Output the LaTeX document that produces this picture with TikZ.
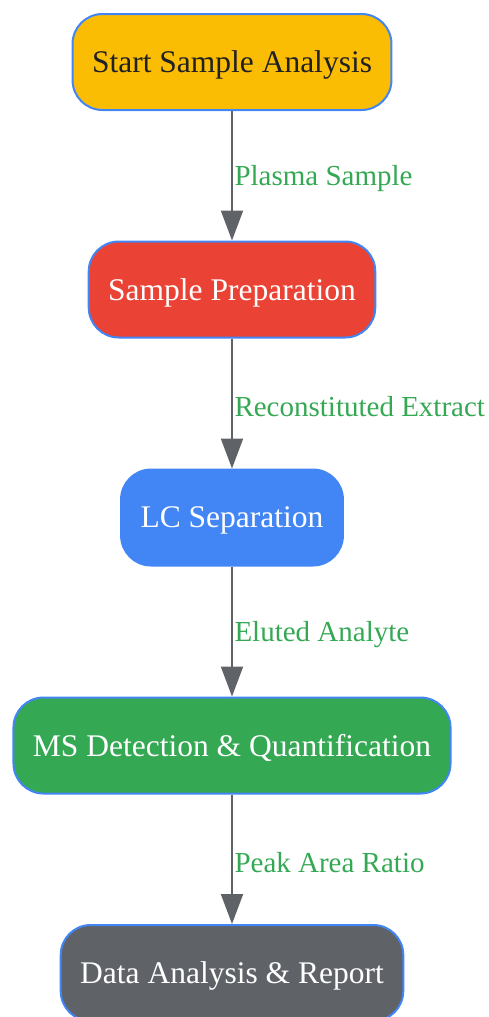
\documentclass[tikz,border=0pt]{standalone}
\usepackage{fontspec}
\setmainfont{Liberation Serif}
\usetikzlibrary{arrows.meta}
\definecolor{stepYellow}{HTML}{FBBC04}
\definecolor{stepRed}{HTML}{EA4335}
\definecolor{stepBlue}{HTML}{4285F4}
\definecolor{stepGreen}{HTML}{34A853}
\definecolor{stepGray}{HTML}{5F6368}
\definecolor{stepDark}{HTML}{202124}
\begin{document}
\begin{tikzpicture}
[stepDecorate/.style={shape=rectangle,rounded corners=30pt,draw=stepBlue,line width=2pt,
  minimum height=96pt,inner xsep=19.5pt,text depth=0pt,font=\fontsize{31.5}{36}\selectfont}]
\useasboundingbox (0pt,0pt) rectangle (489pt,-1017pt);
%% nodes or vertices
\foreach \nodename/\y/\fillcol/\txtcol/\txt in {
  start/62/stepYellow/stepDark/Start Sample Analysis,
  prep/289.5/stepRed/white/Sample Preparation,
  lc/517.5/stepBlue/white/LC Separation,
  ms/745.5/stepGreen/white/MS Detection \& Quantification,
  report/973/stepGray/white/Data Analysis \& Report}
{
  \node (\nodename) at (232pt,-\y pt) [stepDecorate,fill=\fillcol,text=\txtcol] {\txt};
}
%% edges or lines
\tikzstyle{EdgeStyle}=[-{Triangle[length=30pt,width=22pt]},draw=stepGray,line width=2pt]
\tikzstyle{LabelStyle}=[anchor=west,inner xsep=1.5pt,yshift=-3pt,text=stepGreen,font=\fontsize{29}{34}\selectfont]
\foreach \startnode/\endnode/\lbl in {
  start/prep/Plasma Sample, prep/lc/Reconstituted Extract,
  lc/ms/Eluted Analyte, ms/report/Peak Area Ratio}
{
  \draw[EdgeStyle] (\startnode) -- node[LabelStyle,midway] {\lbl} (\endnode);
}
\end{tikzpicture}
\end{document}
